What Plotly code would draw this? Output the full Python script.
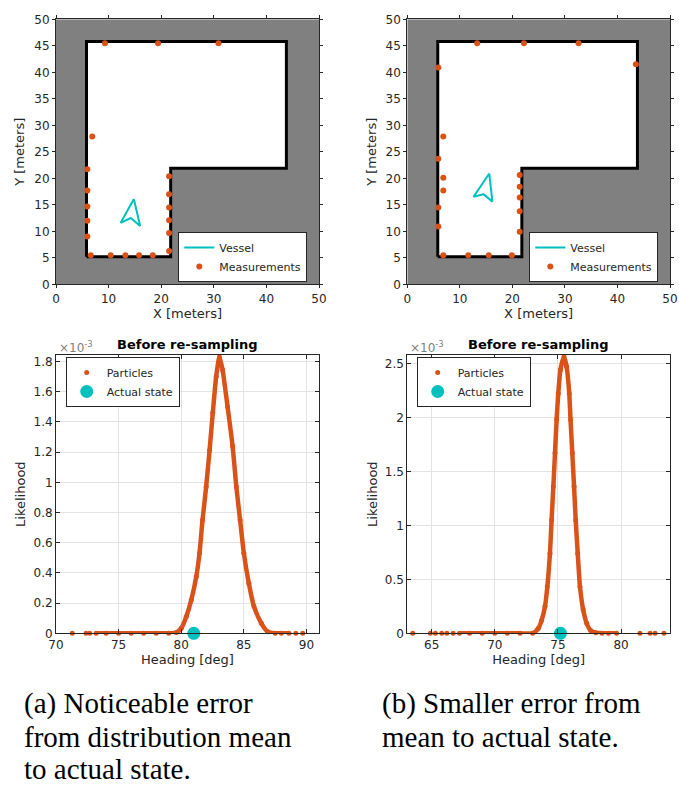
import plotly.graph_objects as go

# ---------------- data ----------------
# Map walls (meters)
wall_x = [5.8, 21.8, 21.8, 43.8, 43.8, 5.8, 5.8]
wall_y = [5.2, 5.2, 21.9, 21.9, 45.8, 45.8, 5.2]

# Vessel outlines
vessel_a_x = [14.8, 16.0, 14.2, 12.3, 14.8]
vessel_a_y = [16.1, 11.0, 12.5, 11.6, 16.1]
vessel_b_x = [15.6, 16.2, 14.5, 12.6, 15.6]
vessel_b_y = [20.9, 15.6, 17.0, 16.5, 20.9]

# Range measurements
meas_a_x = [9.3, 19.4, 30.9, 6.9, 5.95, 5.95, 5.95, 5.95, 5.95, 6.6, 10.4, 13.2, 15.8, 18.4,
            21.5, 21.5, 21.5, 21.5, 21.5, 21.5]
meas_a_y = [45.5, 45.5, 45.5, 27.9, 21.7, 17.7, 14.7, 12.0, 9.0, 5.5, 5.5, 5.5, 5.5, 5.5,
            20.4, 17.0, 14.5, 12.1, 9.7, 6.3]
meas_b_x = [13.3, 22.2, 32.6, 43.5, 5.9, 6.85, 5.9, 6.85, 6.85, 5.9, 5.9, 6.85, 11.6, 15.5, 19.9,
            21.4, 21.4, 21.4, 21.4, 21.4]
meas_b_y = [45.5, 45.5, 45.5, 41.5, 40.9, 27.9, 23.7, 20.1, 17.7, 14.5, 10.9, 5.5, 5.5, 5.5, 5.5,
            20.6, 18.4, 16.4, 13.8, 9.9]

# Particles (heading in deg, likelihood in units of 1e-3)
heading_a = [71.3, 72.4, 72.7, 73.2, 74.0, 75.0, 76.0, 77.0, 78.0, 79.0, 79.6, 80.0, 80.4, 80.8,
             81.2, 81.46, 81.7, 81.99, 82.26, 82.52, 82.79, 83.05, 83.3, 83.7, 84.1, 84.4, 84.7,
             85.0, 85.4, 85.8, 86.4, 86.9, 87.5, 88.0, 88.6, 89.15, 89.7]
likelihood_a = [0, 0, 0, 0, 0, 0, 0, 0, 0, 0, 0.005, 0.033, 0.11, 0.22,
                0.375, 0.53, 0.75, 0.97, 1.21, 1.46, 1.70, 1.83, 1.745, 1.50, 1.24, 0.97, 0.75,
                0.53, 0.33, 0.18, 0.066, 0.011, 0, 0, 0, 0, 0]
heading_b = [63.5, 64.9, 65.3, 65.8, 66.2, 66.7, 67.2, 68.0, 69.0, 70.0, 71.0, 72.0, 73.0, 73.45,
             73.71, 73.98, 74.16, 74.37, 74.5, 74.64, 74.77, 74.9, 75.03, 75.2, 75.48, 75.69,
             75.9, 76.0, 76.14, 76.28, 76.41, 76.57, 76.75, 77.0, 77.28, 77.6, 78.0, 78.5, 79.0,
             79.65, 81.5, 82.3, 82.7, 83.4]
likelihood_b = [0, 0, 0, 0, 0, 0, 0, 0, 0, 0, 0, 0, 0, 0.046,
                0.12, 0.25, 0.43, 0.74, 1.05, 1.36, 1.67, 1.98, 2.22, 2.44, 2.56, 2.47,
                2.22, 1.98, 1.67, 1.36, 1.05, 0.74, 0.43, 0.22, 0.093, 0.025, 0.005, 0, 0,
                0, 0, 0, 0, 0]
dense_a = (73.2, 88.6)
dense_b = (67.2, 79.65)

actual_a = 81.0
actual_b = 75.2

captions_a = ["(a) Noticeable error", "from distribution mean", "to actual state."]
captions_b = ["(b) Smaller error from", "mean to actual state."]

# ---------------- style ----------------
W, H = 679, 787
ORANGE = "#D95319"
CYAN = "#00BFBF"
GREY = "#808080"
DARK = "#262626"
FONT = "DejaVu Sans"


def px_x(p):
    return p / W


def px_y(p):
    return 1 - p / H


fig = go.Figure()

panels = [
    dict(ax="", vx=vessel_a_x, vy=vessel_a_y, mx=meas_a_x, my=meas_a_y, leg="legend"),
    dict(ax="2", vx=vessel_b_x, vy=vessel_b_y, mx=meas_b_x, my=meas_b_y, leg="legend2"),
]
for p in panels:
    xa, ya = "x" + p["ax"], "y" + p["ax"]
    fig.add_trace(go.Scatter(x=wall_x, y=wall_y, mode="lines", fill="toself",
                             fillcolor="white", line=dict(color="black", width=3),
                             showlegend=False, hoverinfo="skip", xaxis=xa, yaxis=ya))
    fig.add_trace(go.Scatter(x=p["vx"], y=p["vy"], mode="lines", name="Vessel",
                             line=dict(color=CYAN, width=2), legend=p["leg"],
                             xaxis=xa, yaxis=ya))
    fig.add_trace(go.Scatter(x=p["mx"], y=p["my"], mode="markers", name="Measurements",
                             marker=dict(color=ORANGE, size=6), legend=p["leg"],
                             xaxis=xa, yaxis=ya))
    fig.add_shape(type="rect", xref=xa, yref=ya, x0=0, x1=50, y0=0, y1=50,
                  fillcolor=GREY, line=dict(width=0), layer="below")

bottom = [
    dict(ax="3", hx=heading_a, ly=likelihood_a, dense=dense_a, act=actual_a, leg="legend3"),
    dict(ax="4", hx=heading_b, ly=likelihood_b, dense=dense_b, act=actual_b, leg="legend4"),
]
for p in bottom:
    xa, ya = "x" + p["ax"], "y" + p["ax"]
    lo, hi = p["dense"]
    bx = [h for h in p["hx"] if lo <= h <= hi]
    by = [l for h, l in zip(p["hx"], p["ly"]) if lo <= h <= hi]
    fig.add_trace(go.Scatter(x=bx, y=by, mode="lines",
                             line=dict(color=ORANGE, width=4.5, shape="spline", smoothing=0.6),
                             showlegend=False, hoverinfo="skip", cliponaxis=False,
                             xaxis=xa, yaxis=ya))
    fig.add_trace(go.Scatter(x=p["hx"], y=p["ly"], mode="markers", name="Particles",
                             marker=dict(color=ORANGE, size=5), legend=p["leg"],
                             cliponaxis=False, xaxis=xa, yaxis=ya))
    fig.add_trace(go.Scatter(x=[p["act"]], y=[0], mode="markers", name="Actual state",
                             marker=dict(color=CYAN, size=13), legend=p["leg"],
                             cliponaxis=False, xaxis=xa, yaxis=ya))

# domains
dx_left = [px_x(56), px_x(319)]
dx_right = [px_x(407.3), px_x(670)]
dy_top = [px_y(284.3), px_y(19.3)]
dy_bot = [px_y(633.3), px_y(355)]

tickfont = dict(family=FONT, size=12, color=DARK)
titlefont = dict(family=FONT, size=13, color=DARK)

map_axis = dict(range=[0, 50], dtick=10, ticks="outside", ticklen=3, tickcolor=DARK,
                showline=True, linecolor=DARK, linewidth=1, mirror="allticks",
                showgrid=False, zeroline=False, tickfont=tickfont, automargin=False)
map_y = dict(map_axis, dtick=5)

fig.update_layout(
    xaxis=dict(map_axis, domain=dx_left, anchor="y",
               title=dict(text="X [meters]", font=titlefont, standoff=2)),
    yaxis=dict(map_y, domain=dy_top, anchor="x",
               title=dict(text="Y [meters]", font=titlefont, standoff=6)),
    xaxis2=dict(map_axis, domain=dx_right, anchor="y2",
                title=dict(text="X [meters]", font=titlefont, standoff=2)),
    yaxis2=dict(map_y, domain=dy_top, anchor="x2",
                title=dict(text="Y [meters]", font=titlefont, standoff=6)),
)

pdf_x = dict(ticks="inside", ticklen=4, tickcolor=DARK, showline=True, linecolor=DARK,
             linewidth=1, mirror="allticks", showgrid=True, gridcolor="#e3e3e3",
             zeroline=False, tickfont=tickfont, dtick=5, automargin=False)
pdf_y = dict(pdf_x)

fig.update_layout(
    xaxis3=dict(pdf_x, domain=dx_left, anchor="y3", range=[70, 91],
                title=dict(text="Heading [deg]", font=titlefont, standoff=2)),
    yaxis3=dict(pdf_y, domain=dy_bot, anchor="x3", range=[0, 1.843], dtick=0.2,
                title=dict(text="Likelihood", font=titlefont, standoff=4)),
    xaxis4=dict(pdf_x, domain=dx_right, anchor="y4", range=[63.07, 83.88],
                title=dict(text="Heading [deg]", font=titlefont, standoff=2)),
    yaxis4=dict(pdf_y, domain=dy_bot, anchor="x4", range=[0, 2.577], dtick=0.5,
                title=dict(text="Likelihood", font=titlefont, standoff=4)),
)

legend_style = dict(bgcolor="white", bordercolor=DARK, borderwidth=1,
                    font=dict(family=FONT, size=11, color=DARK),
                    xanchor="left", yanchor="middle", tracegroupgap=0)
fig.update_layout(
    legend=dict(legend_style, x=px_x(178.3), y=px_y(257)),
    legend2=dict(legend_style, x=px_x(529.3), y=px_y(257)),
    legend3=dict(legend_style, x=px_x(65.7), y=px_y(382)),
    legend4=dict(legend_style, x=px_x(416.7), y=px_y(382)),
)

anns = []
for cx, ex in [((56 + 319) / 2, 57), ((407.3 + 670) / 2, 408)]:
    anns.append(dict(text="<b>Before re-sampling</b>", x=px_x(cx), y=px_y(344), xref="paper",
                     yref="paper", showarrow=False, xanchor="center", yanchor="middle",
                     font=dict(family=FONT, size=13, color="black")))
    anns.append(dict(text="×10<sup>-3</sup>", x=px_x(ex), y=px_y(347), xref="paper",
                     yref="paper", showarrow=False, xanchor="left", yanchor="middle",
                     font=dict(family=FONT, size=12, color="#7f7f7f")))

cap_font = dict(family="Liberation Serif", size=29, color="black")
cap_rows = [703, 737, 769]
for line, yy in zip(captions_a, cap_rows):
    anns.append(dict(text=line, x=px_x(22), y=px_y(yy), xref="paper", yref="paper",
                     showarrow=False, xanchor="left", yanchor="middle", font=cap_font))
for line, yy in zip(captions_b, cap_rows):
    anns.append(dict(text=line, x=px_x(380), y=px_y(yy), xref="paper", yref="paper",
                     showarrow=False, xanchor="left", yanchor="middle", font=cap_font))

fig.update_layout(annotations=anns, width=W, height=H, margin=dict(l=0, r=0, t=0, b=0),
                  paper_bgcolor="white", plot_bgcolor="white",
                  font=dict(family=FONT, color=DARK))

fig.write_html("out.html")
